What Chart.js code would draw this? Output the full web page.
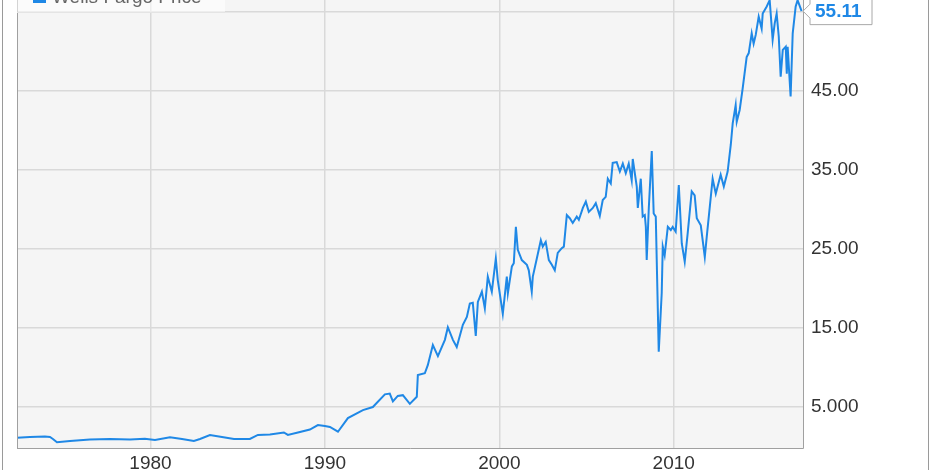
<!DOCTYPE html>
<html>
<head>
<meta charset="utf-8">
<script src="https://cdn.jsdelivr.net/npm/chart.js@4"></script>
<style>
  body { margin: 0; background: #fff; overflow: hidden; }
  #wrap { position: relative; width: 932px; height: 470px; overflow: hidden; font-family: 'Liberation Sans', Arial, sans-serif; }
  #chart { position: absolute; left: 0; top: 0; }
  .frame { position: absolute; top: 0; width: 1px; height: 470px; background: #9a9a9a; }
  #legend { position: absolute; left: 17px; top: -20px; width: 208px; height: 32px;
    background: rgba(255,255,255,0.55); border-bottom: 1px solid #e4e4e4; }
  #legend .sw { position: absolute; left: 16px; top: 10px; width: 13px; height: 13px; background: #1f88e6; }
  #legend .tx { position: absolute; left: 35px; top: 7px; font-size: 19px; line-height: 19px; color: #666; white-space: nowrap; }
</style>
</head>
<body>
<div id="wrap">
  <canvas id="chart" width="932" height="470"></canvas>
  <div id="legend"><div class="sw"></div><div class="tx">Wells Fargo Price</div></div>
  <div class="frame" style="left:2px"></div>
  <div class="frame" style="left:928px"></div>
</div>
<script>
// Wells Fargo share price
const years = [
  1972.35, 1973.09, 1973.95, 1974.24, 1974.41, 1974.64, 1975.39, 1976.53, 1977.68, 1978.83,
  1979.68, 1980.26, 1981.12, 1981.81, 1982.49, 1982.84, 1983.41, 1984.10, 1984.79, 1985.70,
  1986.16, 1986.85, 1987.65, 1987.88, 1988.57, 1989.14, 1989.60, 1990.00, 1990.29, 1990.75,
  1991.32, 1992.18, 1992.75, 1993.44, 1993.72, 1993.90, 1994.18, 1994.47, 1994.87, 1995.27,
  1995.33, 1995.73, 1995.90, 1996.19, 1996.48, 1996.88, 1997.05, 1997.34, 1997.56, 1997.91,
  1998.14, 1998.31, 1998.48, 1998.65, 1998.77, 1999.00, 1999.17, 1999.34, 1999.57, 1999.80,
  1999.91, 2000.20, 2000.43, 2000.49, 2000.72, 2000.83, 2000.95, 2001.06, 2001.29, 2001.58,
  2001.69, 2001.86, 2001.92, 2002.15, 2002.38, 2002.49, 2002.66, 2002.84, 2003.01, 2003.18,
  2003.35, 2003.58, 2003.70, 2003.87, 2004.04, 2004.21, 2004.44, 2004.56, 2004.79, 2004.96,
  2005.13, 2005.36, 2005.53, 2005.76, 2005.93, 2006.10, 2006.22, 2006.39, 2006.50, 2006.73,
  2006.91, 2007.08, 2007.25, 2007.42, 2007.59, 2007.65, 2007.88, 2007.94, 2008.11, 2008.22,
  2008.34, 2008.40, 2008.45, 2008.57, 2008.74, 2008.85, 2008.97, 2009.14, 2009.31, 2009.37,
  2009.48, 2009.66, 2009.83, 2009.94, 2010.11, 2010.29, 2010.46, 2010.63, 2010.80, 2011.03,
  2011.20, 2011.32, 2011.55, 2011.78, 2011.89, 2012.23, 2012.41, 2012.69, 2012.87, 2013.09,
  2013.27, 2013.38, 2013.55, 2013.61, 2013.78, 2013.95, 2014.18, 2014.30, 2014.47, 2014.58,
  2014.70, 2014.87, 2015.04, 2015.10, 2015.33, 2015.50, 2015.67, 2015.79, 2015.90, 2016.02,
  2016.13, 2016.25, 2016.42, 2016.48, 2016.53, 2016.70, 2016.82, 2016.99, 2017.10, 2017.33
];
const prices = [
  1.11, 1.20, 1.27, 1.20, 0.95, 0.53, 0.70, 0.89, 0.95, 0.89,
  0.99, 0.82, 1.16, 0.95, 0.70, 0.95, 1.46, 1.20, 0.95, 0.95,
  1.46, 1.52, 1.77, 1.46, 1.84, 2.15, 2.72, 2.59, 2.47, 1.87,
  3.60, 4.60, 5.00, 6.60, 6.70, 5.70, 6.40, 6.50, 5.40, 6.30,
  9.05, 9.27, 10.3, 12.85, 11.45, 13.5, 15.1, 13.5, 12.6, 15.4,
  16.4, 18.1, 18.2, 14.0, 18.3, 19.6, 17.5, 21.5, 19.6, 23.8,
  21.1, 16.8, 21.5, 19.4, 22.8, 23.2, 27.8, 24.9, 23.6, 23.0,
  22.3, 19.6, 21.5, 23.8, 26.1, 25.3, 25.9, 23.6, 23.0, 22.3,
  24.5, 25.1, 25.3, 29.3, 28.9, 28.3, 29.1, 28.7, 30.2, 31.0,
  29.7, 30.2, 30.8, 29.2, 31.2, 31.6, 33.9, 33.3, 35.9, 36.0,
  34.8, 35.8, 34.6, 35.8, 33.7, 36.4, 32.9, 30.2, 33.9, 29.1,
  29.3, 27.8, 23.6, 30.2, 37.4, 29.5, 29.1, 12.0, 19.4, 25.3,
  24.2, 27.8, 27.4, 27.8, 27.2, 33.1, 25.7, 23.4, 27.0, 32.3,
  31.8, 28.9, 28.0, 24.0, 26.5, 33.9, 32.0, 34.4, 32.9, 34.8,
  38.2, 40.9, 43.2, 41.1, 42.6, 45.3, 49.3, 49.8, 52.3, 51.0,
  52.1, 54.4, 52.9, 54.8, 55.7, 56.5, 51.5, 53.6, 54.8, 51.9,
  46.8, 50.2, 50.6, 47.2, 50.6, 44.3, 52.3, 55.7, 56.5, 55.11
];
const xTicks = [1980, 1990, 2000, 2010];
const yTicks = [5, 15, 25, 35, 45, 55];
const yTickLabels = ['5.000', '15.00', '25.00', '35.00', '45.00', '55.00'];
const lastLabel = '55.11';

const FONT = "'Liberation Sans', Arial, sans-serif";
const BLUE = '#1f88e6';

const plotFrame = {
  id: 'plotFrame',
  beforeDraw(chart) {
    const { ctx, chartArea: a } = chart;
    ctx.save();
    ctx.fillStyle = '#f5f5f5';
    ctx.fillRect(a.left, a.top, a.right - a.left, a.bottom - a.top);
    ctx.restore();
  },
  afterDraw(chart) {
    const { ctx, chartArea: a } = chart;
    ctx.save();
    ctx.strokeStyle = '#a0a0a0';
    ctx.lineWidth = 1;
    ctx.beginPath();
    ctx.moveTo(a.left + 0.5, a.top);
    ctx.lineTo(a.left + 0.5, a.bottom);
    ctx.stroke();

    // last value callout
    const y = chart.scales.y.getPixelForValue(prices[prices.length - 1]);
    const x = a.right;
    const bx = x + 7, bw = 62, bh = 27;
    ctx.fillStyle = '#fff';
    ctx.strokeStyle = '#a8a8a8';
    ctx.beginPath();
    ctx.moveTo(x, y);
    ctx.lineTo(bx, y - 7);
    ctx.lineTo(bx, y - bh / 2);
    ctx.lineTo(bx + bw, y - bh / 2);
    ctx.lineTo(bx + bw, y + bh / 2);
    ctx.lineTo(bx, y + bh / 2);
    ctx.lineTo(bx, y + 7);
    ctx.closePath();
    ctx.fill();
    ctx.stroke();
    ctx.fillStyle = BLUE;
    ctx.font = 'bold 19px ' + FONT;
    ctx.textBaseline = 'middle';
    ctx.textAlign = 'left';
    ctx.fillText(lastLabel, bx + 5, y + 1);
    ctx.restore();
  }
};

new Chart(document.getElementById('chart'), {
  type: 'line',
  data: {
    datasets: [{
      label: 'Wells Fargo Price',
      data: years.map((yr, i) => ({ x: yr, y: prices[i] })),
      borderColor: BLUE,
      borderWidth: 2,
      pointRadius: 0,
      tension: 0,
      fill: false
    }]
  },
  options: {
    responsive: false,
    animation: false,
    devicePixelRatio: 1,
    layout: { autoPadding: false, padding: { left: 17, top: 0, right: 0, bottom: 0 } },
    plugins: { legend: { display: false }, tooltip: { enabled: false } },
    scales: {
      x: {
        type: 'linear',
        min: 1972.35,
        max: 2017.41,
        afterBuildTicks: (s) => { s.ticks = xTicks.map(v => ({ value: v })); },
        afterFit: (s) => { s.height = 22; },
        grid: { color: '#d9d9d9', lineWidth: 1.5, drawTicks: false },
        border: { color: '#a0a0a0', width: 1 },
        ticks: {
          autoSkip: false, maxRotation: 0, padding: 4, color: '#333',
          font: { family: FONT, size: 19 },
          callback: (v) => String(v)
        }
      },
      y: {
        position: 'right',
        min: -0.19,
        max: 56.52,
        afterBuildTicks: (s) => { s.ticks = yTicks.map(v => ({ value: v })); },
        afterFit: (s) => { s.width = 129; s.paddingTop = 0; s.paddingBottom = 0; },
        grid: { color: '#d9d9d9', lineWidth: 1.5, drawTicks: false },
        border: { color: '#a0a0a0', width: 1 },
        ticks: {
          padding: 8, color: '#333',
          font: { family: FONT, size: 19 },
          callback: (v) => yTickLabels[yTicks.indexOf(v)]
        }
      }
    }
  },
  plugins: [plotFrame]
});
</script>
</body>
</html>
